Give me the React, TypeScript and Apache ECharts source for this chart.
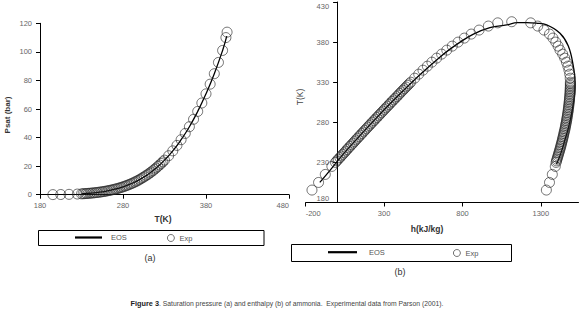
import React, { useEffect, useRef } from 'react';
import * as echarts from 'echarts';

// Experimental temperatures (K)
const expT = [195.5, 205, 215, 225,
  230, 232, 234, 236, 238, 240, 242, 244, 246, 248, 250, 252, 254, 256, 258, 260,
  262, 264, 266, 268, 270, 272, 274, 276, 278, 280, 282, 284, 286, 288, 290, 292,
  294, 296, 298, 300, 302, 304, 306, 308, 310, 312, 314, 316, 318, 320, 322, 324,
  326, 328, 330,
  335, 340, 345, 350, 355, 360, 365, 370, 375, 380, 385, 390, 395, 400, 404, 405.4];

// (a) experimental saturation pressure (bar)
const expP = [0.06, 0.13, 0.25, 0.46,
  0.60, 0.67, 0.75, 0.84, 0.93, 1.02, 1.13, 1.24, 1.37, 1.51, 1.65, 1.81, 1.98, 2.16, 2.35, 2.56,
  2.78, 3.02, 3.27, 3.54, 3.82, 4.12, 4.43, 4.77, 5.13, 5.51, 5.91, 6.33, 6.77, 7.24, 7.73, 8.24,
  8.78, 9.35, 9.95, 10.6, 11.3, 12.0, 12.7, 13.5, 14.2, 15.1, 15.9, 16.8, 17.8, 18.7, 19.8, 20.8,
  21.9, 23.0, 24.2,
  27.3, 30.7, 34.5, 38.5, 42.9, 47.6, 52.8, 58.3, 64.2, 70.6, 77.4, 84.7, 92.6, 101.0, 110.0, 113.8];

// (a) EOS curve
const eosTa = [230, 240, 250, 260, 270, 280, 290, 300, 310, 320, 330, 340, 350, 360, 370, 380, 390, 400, 405];
const eosPa = [0.60, 1.02, 1.65, 2.56, 3.82, 5.51, 7.73, 10.6, 14.2, 18.7, 24.2, 30.7, 38.5, 47.6, 58.3, 70.6, 84.7, 101.0, 111.0];

// (b) experimental enthalpy, saturated liquid (kJ/kg), same temperatures as expT
const expHliq = [-160, -118, -75, -33,
  -10, -1, 8, 18, 27, 36, 46, 55, 64, 73, 83, 92, 102, 111, 120, 130,
  139, 149, 158, 168, 177, 187, 196, 206, 215, 225, 235, 244, 254, 264, 273, 283,
  293, 302, 312, 322, 332, 341, 351, 361, 371, 381, 391, 400, 410, 420, 430, 440,
  450, 460, 470,
  495, 521, 548, 576, 605, 635, 667, 700, 735, 772, 812, 856, 906, 965, 1025, 1114];

// (b) experimental enthalpy, saturated vapour (kJ/kg), temperatures expT without the critical point
const expHvap = [1335, 1355, 1373, 1392,
  1397, 1400, 1403, 1406, 1409, 1412, 1415, 1418, 1421, 1424, 1427, 1429, 1432, 1435, 1437, 1440,
  1442, 1445, 1447, 1449, 1452, 1454, 1456, 1458, 1460, 1462, 1464, 1466, 1467, 1469, 1471, 1472,
  1474, 1475, 1476, 1478, 1479, 1480, 1481, 1482, 1483, 1484, 1485, 1486, 1486, 1487, 1487, 1488,
  1488, 1488, 1488,
  1487, 1484, 1479, 1472, 1463, 1452, 1439, 1422, 1410, 1395, 1377, 1355, 1320, 1280, 1235];

// (b) EOS dome, traced liquid -> critical -> vapour
const eosHb = [-110, -45, 38, 130, 225, 322, 425, 532, 648, 712, 785, 870, 975, 1082, 1150, 1210, 1270, 1337, 1422, 1475, 1507, 1518, 1515, 1500, 1478, 1452, 1425, 1400];
const eosTb = [205, 220, 240, 260, 280, 300, 320, 340, 360, 370, 380, 390, 398, 401.5, 404.2, 404.4, 403.6, 401.5, 391, 375, 350, 330, 315, 295, 275, 257, 240, 228];

// tick labels
const aXTicks = [180, 280, 380, 480];
const aYTicks = [0, 20, 40, 60, 80, 100, 120];
const bXTicks = [-200, 300, 800, 1300];
const bYTicks = [180, 230, 280, 330, 380, 430];

const FONT = '"Liberation Sans", Arial, sans-serif';

export default function App() {
  const ref = useRef<HTMLDivElement>(null);
  useEffect(() => {
    const chart = echarts.init(ref.current!, null, { renderer: 'svg' });

    const axisLine = { show: true, onZero: false, lineStyle: { color: '#000', width: 1 } };
    const tick = (vals: number[]) => ({ show: true, length: 4, lineStyle: { color: '#000', width: 1 }, customValues: vals });
    const label = (vals: number[], margin: number, extra: object = {}) => ({
      customValues: vals, margin, fontSize: 7.5, color: '#666', fontFamily: FONT,
      formatter: (v: number) => String(v), ...extra,
    });

    const circleStyle = { color: 'rgba(0,0,0,0)', borderColor: '#222', borderWidth: 0.8 };
    const lineStyle = { color: '#000', width: 1.3 };
    const legendText = { fontSize: 7.5, color: '#555', fontFamily: FONT };

    chart.setOption({
      animation: false,
      backgroundColor: '#fff',
      grid: [
        { left: 40, top: 23.3, width: 249, height: 171.4 },
        { left: 305.7, top: 2, width: 272.8, height: 200.5 },
      ],
      xAxis: [
        {
          type: 'value', gridIndex: 0, min: 180, max: 480,
          axisLine, axisTick: tick(aXTicks), axisLabel: label(aXTicks, 7, { alignMaxLabel: 'right' }),
          splitLine: { show: false },
        },
        {
          type: 'value', gridIndex: 1, min: -200, max: 1540,
          axisLine, axisTick: tick(bXTicks), axisLabel: label(bXTicks, 7, { alignMinLabel: 'left' }),
          splitLine: { show: false },
        },
      ],
      yAxis: [
        {
          type: 'value', gridIndex: 0, min: 0, max: 120,
          axisLine, axisTick: tick(aYTicks), axisLabel: label(aYTicks, 8), splitLine: { show: false },
        },
        {
          // axis drawn at h = 0 (offset inward from the grid's left edge at h = -200)
          type: 'value', gridIndex: 1, min: 180, max: 430, offset: -31.4,
          axisLine, axisTick: tick(bYTicks),
          axisLabel: label(bYTicks, 8, { verticalAlignMinLabel: 'bottom', verticalAlignMaxLabel: 'top' }),
          splitLine: { show: false },
        },
      ],
      legend: [
        { data: [{ name: 'EOS', icon: 'rect' }], left: 75, top: 233.5, itemWidth: 27, itemHeight: 2.2,
          padding: 0, selectedMode: false, itemStyle: { color: '#000', borderWidth: 0 },
          textStyle: { ...legendText, padding: [0, 0, 0, 4] } },
        { data: [{ name: 'Exp', icon: 'circle' }], left: 167, top: 234, itemWidth: 7, itemHeight: 7,
          padding: 0, selectedMode: false,
          itemStyle: { color: 'rgba(0,0,0,0)', borderColor: '#222', borderWidth: 0.8 }, textStyle: legendText },
        { data: [{ name: 'EOS', icon: 'rect' }], left: 328, top: 248.2, itemWidth: 29, itemHeight: 2.2,
          padding: 0, selectedMode: false, itemStyle: { color: '#000', borderWidth: 0 },
          textStyle: { ...legendText, padding: [0, 0, 0, 7] } },
        { data: [{ name: 'Exp', icon: 'circle' }], left: 453, top: 249, itemWidth: 7, itemHeight: 7,
          padding: 0, selectedMode: false,
          itemStyle: { color: 'rgba(0,0,0,0)', borderColor: '#222', borderWidth: 0.8 }, textStyle: legendText },
      ],
      series: [
        {
          name: 'EOS', type: 'line', xAxisIndex: 0, yAxisIndex: 0, symbol: 'none', smooth: true,
          itemStyle: { color: '#000' }, lineStyle, data: eosTa.map((t, i) => [t, eosPa[i]]), z: 2,
        },
        {
          name: 'Exp', type: 'scatter', xAxisIndex: 0, yAxisIndex: 0, symbol: 'circle', symbolSize: 10,
          itemStyle: circleStyle, data: expT.map((t, i) => [t, expP[i]]), z: 3,
        },
        {
          name: 'EOS', type: 'line', xAxisIndex: 1, yAxisIndex: 1, symbol: 'none', smooth: 0.4,
          itemStyle: { color: '#000' }, lineStyle, data: eosHb.map((h, i) => [h, eosTb[i]]), z: 2,
        },
        {
          name: 'Exp', type: 'scatter', xAxisIndex: 1, yAxisIndex: 1, symbol: 'circle', symbolSize: 10,
          itemStyle: circleStyle,
          data: expHliq.map((h, i) => [h, expT[i]]).concat(expHvap.map((h, i) => [h, expT[i]])), z: 3,
        },
      ],
      graphic: [
        { type: 'rect', shape: { x: 38.5, y: 230.5, width: 225.5, height: 15 }, style: { fill: 'none', stroke: '#000', lineWidth: 1 } },
        { type: 'rect', shape: { x: 291.5, y: 244.5, width: 220, height: 17 }, style: { fill: 'none', stroke: '#000', lineWidth: 1 } },
        { type: 'text', x: 7, y: 115, rotation: Math.PI / 2,
          style: { text: 'Psat (bar)', font: `bold 8px ${FONT}`, fill: '#333', textAlign: 'center', textVerticalAlign: 'middle' } },
        { type: 'text', x: 163, y: 218.5,
          style: { text: 'T(K)', font: `bold 8.5px ${FONT}`, fill: '#333', textAlign: 'center', textVerticalAlign: 'middle' } },
        { type: 'text', x: 300, y: 97, rotation: Math.PI / 2,
          style: { text: 'T(K)', font: `8.5px ${FONT}`, fill: '#444', textAlign: 'center', textVerticalAlign: 'middle' } },
        { type: 'text', x: 427, y: 229,
          style: { text: 'h(kJ/kg)', font: `bold 8.5px ${FONT}`, fill: '#333', textAlign: 'center', textVerticalAlign: 'middle' } },
        { type: 'text', x: 150, y: 258,
          style: { text: '(a)', font: `9px ${FONT}`, fill: '#333', textAlign: 'center', textVerticalAlign: 'middle' } },
        { type: 'text', x: 400, y: 272,
          style: { text: '(b)', font: `9px ${FONT}`, fill: '#333', textAlign: 'center', textVerticalAlign: 'middle' } },
        { type: 'text', x: 287, y: 303,
          style: {
            text: '{b|Figure 3}. Saturation pressure (a) and enthalpy (b) of ammonia.  Experimental data from Parson (2001).',
            font: `6.8px ${FONT}`, fill: '#444', textAlign: 'center', textVerticalAlign: 'middle',
            rich: { b: { fontWeight: 'bold', fontSize: 7.3, fontFamily: FONT, fill: '#222' } },
          } },
      ],
    });
    return () => chart.dispose();
  }, []);
  return <div ref={ref} style={{ position: 'fixed', left: 0, top: 0, width: 579, height: 317, background: '#fff' }} />;
}
